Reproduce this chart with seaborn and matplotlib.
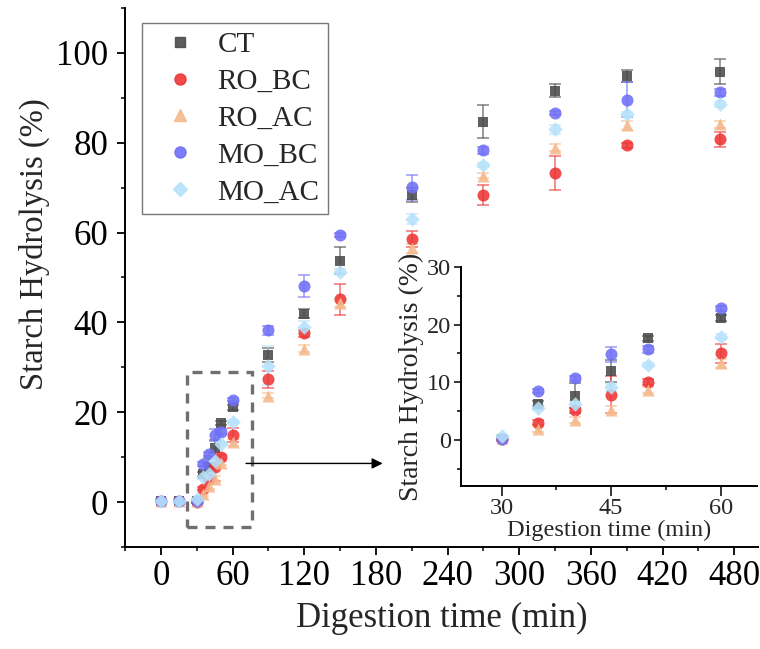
import matplotlib
matplotlib.use('Agg')
import matplotlib.pyplot as plt
from matplotlib.lines import Line2D
from matplotlib.patches import Rectangle
from matplotlib.ticker import MultipleLocator
import pandas as pd
import seaborn as sns

# Digestion times (min)
time = [0, 15, 30, 35, 40, 45, 50, 60, 90, 120, 150, 210, 270, 330, 390, 468]

# Starch hydrolysis (%) per sample
ct = [0.3, 0.3, 0.2, 6.3, 7.7, 12.0, 17.6, 21.1, 32.7, 41.9, 53.7, 68.3, 84.7, 91.6, 94.9, 95.8]
ro_bc = [0.3, 0.3, 0.1, 3.0, 5.1, 7.8, 10.0, 15.0, 27.3, 37.6, 45.1, 58.5, 68.4, 73.3, 79.4, 80.8]
ro_ac = [0.3, 0.3, 0.3, 1.9, 3.5, 5.2, 8.7, 13.3, 23.7, 34.1, 44.3, 56.5, 72.7, 78.9, 83.9, 84.1]
mo_bc = [0.3, 0.3, 0.2, 8.5, 10.7, 14.9, 15.7, 22.8, 38.2, 48.1, 59.5, 70.1, 78.3, 86.6, 89.6, 91.2]
mo_ac = [0.3, 0.3, 0.6, 5.5, 6.3, 9.1, 13.0, 17.9, 30.4, 39.0, 51.3, 63.0, 75.1, 83.0, 86.4, 88.6]

# Standard deviations
ct_err = [0.3, 0.3, 0.3, 0.4, 2.2, 1.9, 0.4, 0.5, 1.5, 1.0, 3.0, 1.6, 3.6, 1.4, 1.4, 2.8]
ro_bc_err = [0.3, 0.3, 0.3, 0.4, 0.4, 3.2, 0.5, 1.6, 1.9, 0.8, 3.4, 1.8, 2.2, 3.8, 0.5, 1.7]
ro_ac_err = [0.3, 0.3, 0.3, 0.5, 0.5, 0.6, 0.5, 0.8, 0.5, 0.8, 0.8, 1.0, 0.6, 0.8, 1.0, 0.8]
mo_bc_err = [0.3, 0.3, 0.3, 0.4, 0.4, 1.3, 0.6, 0.4, 1.0, 2.4, 0.5, 2.8, 0.7, 0.5, 3.9, 0.8]
mo_ac_err = [0.3, 0.3, 0.3, 0.3, 0.3, 0.6, 0.3, 0.4, 4.3, 1.2, 0.6, 1.2, 0.4, 1.0, 0.4, 0.6]

samples = ['CT', 'RO_BC', 'RO_AC', 'MO_BC', 'MO_AC']
values = [ct, ro_bc, ro_ac, mo_bc, mo_ac]
errors = [ct_err, ro_bc_err, ro_ac_err, mo_bc_err, mo_ac_err]

colors = {'CT': '#4a4a4a', 'RO_BC': '#ee3535', 'RO_AC': '#f5b98c',
          'MO_BC': '#6f6ff7', 'MO_AC': '#b5e2fb'}
markers = {'CT': 's', 'RO_BC': 'o', 'RO_AC': '^', 'MO_BC': 'o', 'MO_AC': 'D'}
sizes = {'CT': 60, 'RO_BC': 75, 'RO_AC': 75, 'MO_BC': 75, 'MO_AC': 55}

# long-form table for seaborn
rows = []
for name, vals, errs in zip(samples, values, errors):
    for t, v, e in zip(time, vals, errs):
        rows.append({'time': t, 'value': v, 'err': e, 'sample': name})
df = pd.DataFrame(rows)

sns.set_style('ticks')
plt.rcParams['font.family'] = ['Liberation Serif', 'DejaVu Serif']


def draw_points(ax, data):
    # error bars first, markers on top with a little transparency
    for name in samples:
        d = data[data['sample'] == name]
        ax.errorbar(d['time'], d['value'], yerr=d['err'], fmt='none',
                    ecolor=colors[name], alpha=0.7, elinewidth=1.1,
                    capsize=4, capthick=1.1, zorder=2)
    for name in samples:
        d = data[data['sample'] == name]
        sns.scatterplot(data=d, x='time', y='value', color=colors[name],
                        marker=markers[name], s=sizes[name], alpha=0.88,
                        linewidth=0, legend=False, ax=ax, zorder=3)


fig = plt.figure(figsize=(7.6, 6.49), dpi=100)
ax = fig.add_axes([0.1645, 0.1572, 0.833, 0.8305])
draw_points(ax, df)

ax.set_xlim(-30, 500)
ax.set_ylim(-10, 110)
ax.xaxis.set_major_locator(MultipleLocator(60))
ax.xaxis.set_minor_locator(MultipleLocator(30))
ax.yaxis.set_major_locator(MultipleLocator(20))
ax.yaxis.set_minor_locator(MultipleLocator(10))
ax.tick_params(axis='both', which='major', direction='out', length=6,
               width=1.3, labelsize=25, colors='black')
ax.tick_params(axis='y', which='major', pad=6)
ax.tick_params(axis='both', which='minor', direction='out', length=3,
               width=1.3)
ax.set_xlabel('Digestion time (min)', fontsize=25, labelpad=6)
ax.set_ylabel('Starch Hydrolysis (%)', fontsize=23.5)
ax.yaxis.set_label_coords(-0.118, 0.562)
for s in ['top', 'right']:
    ax.spines[s].set_visible(False)
for s in ['left', 'bottom']:
    ax.spines[s].set_linewidth(1.4)
    ax.spines[s].set_color('black')

# zoom box and arrow
ax.add_patch(Rectangle((22, -5.5), 54, 34.5, fill=False, edgecolor='#707070',
                       linewidth=2.4, linestyle=(0, (3, 2.4)), zorder=1))
ax.annotate('', xy=(188, 8.6), xytext=(69, 8.6),
            arrowprops=dict(arrowstyle='-|>', color='black', lw=1,
                            mutation_scale=16))

# legend
handles = [Line2D([], [], linestyle='none', marker=markers[n], color=colors[n],
                  markersize=7 if n in ('CT', 'MO_AC') else 8, alpha=0.9)
           for n in samples]
leg = ax.legend(handles, samples, loc='upper left',
                bbox_to_anchor=(141.7 / 760, 1 - 22.7 / 649),
                bbox_transform=fig.transFigure, fontsize=21, frameon=True,
                fancybox=False, edgecolor='#555555', borderpad=0.3,
                handlelength=2.0, handletextpad=0.3, labelspacing=0.36,
                borderaxespad=0)
leg.get_frame().set_linewidth(1.0)

# inset
axin = fig.add_axes([0.6062, 0.2512, 0.39, 0.3374])
axin.patch.set_alpha(0)
draw_points(axin, df[(df['time'] >= 30) & (df['time'] <= 60)])
axin.set_xlim(24.4, 65)
axin.set_ylim(-8, 30)
axin.xaxis.set_major_locator(MultipleLocator(15))
axin.xaxis.set_minor_locator(MultipleLocator(7.5))
axin.yaxis.set_major_locator(MultipleLocator(10))
axin.yaxis.set_minor_locator(MultipleLocator(5))
axin.tick_params(axis='both', which='major', direction='out', length=5,
                 width=1.3, labelsize=17.5, pad=2)
axin.tick_params(axis='x', which='major', length=7, pad=2)
axin.tick_params(axis='both', which='minor', direction='out', length=3,
                 width=1.3)
axin.set_xlabel('Digestion time (min)', fontsize=17.5, labelpad=0)
axin.set_ylabel('Starch Hydrolysis (%)', fontsize=20, labelpad=2)
for s in ['top', 'right']:
    axin.spines[s].set_visible(False)
for s in ['left', 'bottom']:
    axin.spines[s].set_linewidth(1.4)
    axin.spines[s].set_color('black')

fig.savefig('out.png', dpi=100)
